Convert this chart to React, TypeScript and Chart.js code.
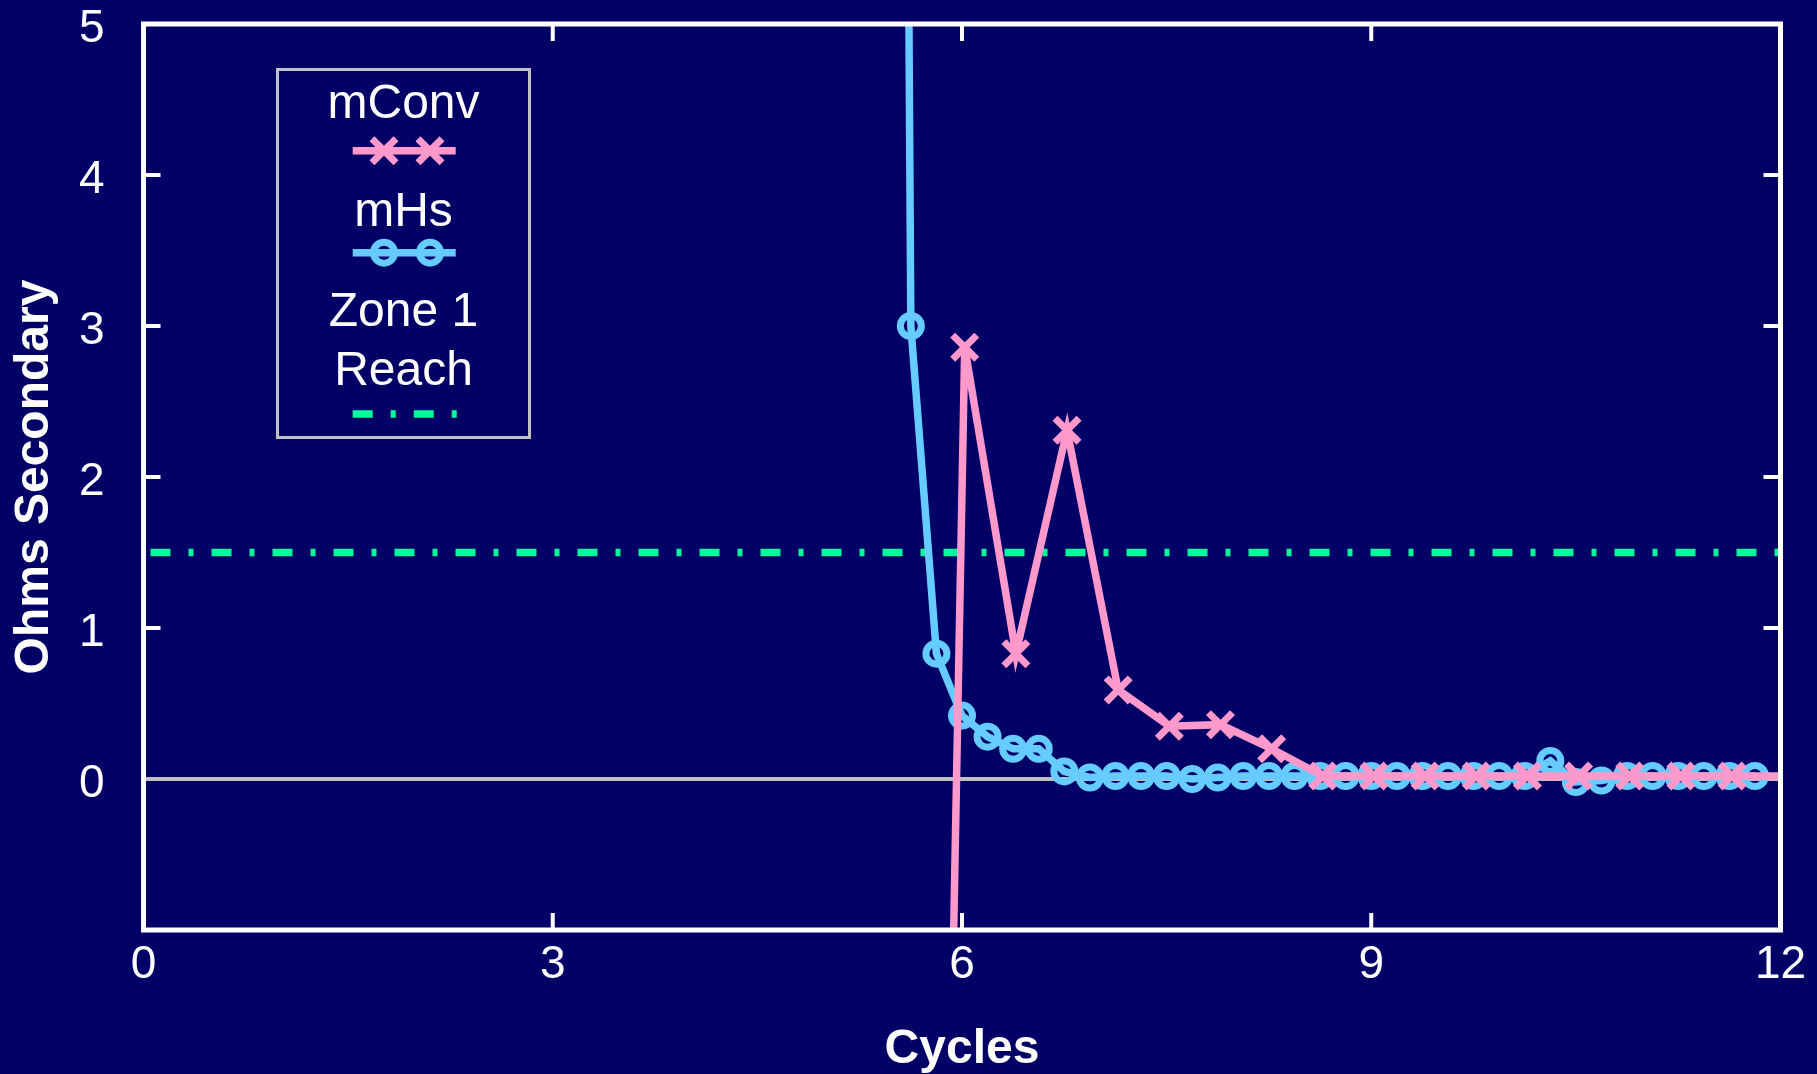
import React, { useEffect, useRef } from 'react';
import { Chart, registerables } from 'chart.js';

Chart.register(...registerables);

// ---------- data ----------
const mHsCycles = [
  5.4375, 5.625, 5.8125, 6.0, 6.1875, 6.375, 6.5625, 6.75, 6.9375, 7.125, 7.3125, 7.5,
  7.6875, 7.875, 8.0625, 8.25, 8.4375, 8.625, 8.8125, 9.0, 9.1875, 9.375, 9.5625, 9.75,
  9.9375, 10.125, 10.3125, 10.5, 10.6875, 10.875, 11.0625, 11.25, 11.4375, 11.625, 11.8125,
];
const mHsOhms = [
  30, 3.0, 0.83, 0.42, 0.28, 0.2, 0.2, 0.05, 0.01, 0.02, 0.02, 0.02,
  0.0, 0.01, 0.02, 0.02, 0.02, 0.02, 0.02, 0.02, 0.02, 0.02, 0.02, 0.02,
  0.02, 0.02, 0.12, -0.02, -0.01, 0.02, 0.02, 0.02, 0.02, 0.02, 0.02,
];
const mConvCycles = [
  5.645, 6.02, 6.395, 6.77, 7.145, 7.52, 7.895, 8.27, 8.645, 9.02, 9.395, 9.77,
  10.145, 10.52, 10.895, 11.27, 11.645, 12.02,
];
const mConvOhms = [
  -15, 2.86, 0.83, 2.31, 0.59, 0.35, 0.36, 0.2, 0.02, 0.02, 0.02, 0.02,
  0.02, 0.02, 0.02, 0.02, 0.02, 0.02,
];
const zoneCycles = [0, 12];
const zoneOhms = [1.5, 1.5];

const seriesLabels = ['mConv', 'mHs', 'Zone 1 Reach'];
const legendLines = [['mConv'], ['mHs'], ['Zone 1', 'Reach']];
const xTitle = 'Cycles';
const yTitle = 'Ohms Secondary';

// ---------- styles ----------
const BG = '#000066';
const PINK = '#ff99cc';
const BLUE = '#66ccff';
const GREEN = '#00ff99';
const GRAY = '#c0c0c0';
const FONT = '"Liberation Sans", Arial, Helvetica, sans-serif';

function toPoints(xs: number[], ys: number[]) {
  return xs.map((x, i) => ({ x, y: ys[i] }));
}

function drawCrossRot(ctx: CanvasRenderingContext2D, x: number, y: number, r: number) {
  const o = r * Math.SQRT1_2;
  ctx.beginPath();
  ctx.moveTo(x - o, y - o);
  ctx.lineTo(x + o, y + o);
  ctx.moveTo(x + o, y - o);
  ctx.lineTo(x - o, y + o);
  ctx.stroke();
}

const framePlugin = {
  id: 'frameAndLegend',
  beforeDraw(chart: any) {
    const { ctx, width, height } = chart;
    ctx.save();
    ctx.fillStyle = BG;
    ctx.fillRect(0, 0, width, height);
    ctx.restore();
  },
  afterDatasetsDraw(chart: any) {
    const { ctx, chartArea } = chart;
    const { left, right, top, bottom } = chartArea;
    const xs = chart.scales.x;
    const ys = chart.scales.y;
    ctx.save();
    ctx.strokeStyle = '#ffffff';
    ctx.lineWidth = 4;
    const tl = 17;
    ys.ticks.forEach((t: any) => {
      if (t.value <= ys.min || t.value >= ys.max || t.value === 0) return;
      const py = ys.getPixelForValue(t.value);
      ctx.beginPath();
      ctx.moveTo(left, py);
      ctx.lineTo(left + tl, py);
      ctx.moveTo(right, py);
      ctx.lineTo(right - tl, py);
      ctx.stroke();
    });
    xs.ticks.forEach((t: any) => {
      if (t.value <= xs.min || t.value >= xs.max) return;
      const px = xs.getPixelForValue(t.value);
      ctx.beginPath();
      ctx.moveTo(px, bottom);
      ctx.lineTo(px, bottom - tl);
      ctx.moveTo(px, top);
      ctx.lineTo(px, top + tl);
      ctx.stroke();
    });
    ctx.lineWidth = 5;
    ctx.strokeRect(left, top, right - left, bottom - top);

    // legend
    const bx = 277.5, by = 69.5, bw = 252, bh = 368;
    ctx.fillStyle = BG;
    ctx.fillRect(bx, by, bw, bh);
    ctx.strokeStyle = GRAY;
    ctx.lineWidth = 3;
    ctx.strokeRect(bx, by, bw, bh);
    const cx = bx + bw / 2;
    ctx.fillStyle = '#ffffff';
    ctx.font = `48px ${FONT}`;
    ctx.textAlign = 'center';
    ctx.textBaseline = 'middle';
    const textY = [[105], [213], [313, 372]];
    legendLines.forEach((lines, i) => {
      lines.forEach((s, j) => ctx.fillText(s, cx, textY[i][j]));
    });
    const sx0 = 352.7, sx1 = 455.7;
    const mk = [384, 430];
    // mConv sample
    ctx.strokeStyle = PINK;
    ctx.lineWidth = 7.5;
    ctx.beginPath();
    ctx.moveTo(sx0, 150.7);
    ctx.lineTo(sx1, 150.7);
    ctx.stroke();
    ctx.lineWidth = 7;
    mk.forEach((m) => drawCrossRot(ctx, m, 150.7, 17));
    // mHs sample
    ctx.strokeStyle = BLUE;
    ctx.lineWidth = 7.5;
    ctx.beginPath();
    ctx.moveTo(sx0, 252.7);
    ctx.lineTo(sx1, 252.7);
    ctx.stroke();
    ctx.lineWidth = 7;
    mk.forEach((m) => {
      ctx.beginPath();
      ctx.arc(m, 252.7, 10.5, 0, Math.PI * 2);
      ctx.stroke();
    });
    // zone sample
    ctx.strokeStyle = GREEN;
    ctx.lineWidth = 7.5;
    ctx.setLineDash([20, 18, 5, 18]);
    ctx.beginPath();
    ctx.moveTo(sx0, 414);
    ctx.lineTo(sx1 + 1, 414);
    ctx.stroke();
    ctx.restore();
  },
};

export default function App() {
  const ref = useRef<HTMLCanvasElement>(null);

  useEffect(() => {
    if (!ref.current) return;
    Chart.defaults.font.family = FONT;
    const lastConv = mConvCycles.length - 1;
    const chart = new Chart(ref.current, {
      type: 'scatter',
      data: {
        datasets: [
          {
            label: seriesLabels[0],
            data: toPoints(mConvCycles, mConvOhms),
            showLine: true,
            borderColor: PINK,
            borderWidth: 7.5,
            pointStyle: 'crossRot',
            pointRadius: (c: any) => (c.dataIndex === lastConv ? 0 : 17),
            pointBorderWidth: 7,
            pointBorderColor: PINK,
            pointBackgroundColor: PINK,
            pointHoverRadius: 17,
          },
          {
            label: seriesLabels[1],
            data: toPoints(mHsCycles, mHsOhms),
            showLine: true,
            borderColor: BLUE,
            borderWidth: 7.5,
            pointStyle: 'circle',
            pointRadius: 10.5,
            pointBorderWidth: 7,
            pointBorderColor: BLUE,
            pointBackgroundColor: 'rgba(0,0,0,0)',
            pointHoverRadius: 10.5,
          },
          {
            label: seriesLabels[2],
            data: toPoints(zoneCycles, zoneOhms),
            showLine: true,
            borderColor: GREEN,
            borderWidth: 7.5,
            borderDash: [20, 18, 5, 18],
            borderDashOffset: 54,
            borderCapStyle: 'butt',
            pointRadius: 0,
            pointHoverRadius: 0,
          },
        ],
      },
      options: {
        animation: false,
        responsive: false,
        devicePixelRatio: 1,
        layout: { padding: { top: 21, right: 36.5, bottom: 0, left: 0 } },
        plugins: {
          legend: { display: false },
          tooltip: { enabled: false },
        },
        scales: {
          x: {
            type: 'linear',
            min: 0,
            max: 12,
            ticks: {
              stepSize: 3,
              color: '#ffffff',
              font: { size: 46, lineHeight: 1 },
              padding: 12,
              maxRotation: 0,
            },
            grid: { display: false, drawTicks: false },
            border: { display: false },
            title: {
              display: true,
              text: xTitle,
              color: '#ffffff',
              font: { size: 48, weight: 'bold', lineHeight: 1 },
              padding: { top: 0, bottom: 0 },
            },
            afterFit(scale: any) {
              scale.height = 144;
              scale.paddingLeft = 0;
              scale.paddingRight = 0;
            },
          },
          y: {
            type: 'linear',
            min: -1,
            max: 5,
            ticks: {
              stepSize: 1,
              color: '#ffffff',
              font: { size: 46, lineHeight: 1 },
              padding: 39,
              labelOffset: 5,
              callback: (v: any) => (Number(v) < 0 ? '' : String(v)),
            },
            grid: {
              drawTicks: false,
              color: (c: any) => (c.tick && c.tick.value === 0 ? GRAY : 'rgba(0,0,0,0)'),
              lineWidth: 4,
            },
            border: { display: false },
            title: {
              display: true,
              text: yTitle,
              color: '#ffffff',
              font: { size: 48, weight: 'bold', lineHeight: 1 },
              padding: { top: 11, bottom: 0 },
            },
            afterFit(scale: any) {
              scale.width = 143.5;
              scale.paddingTop = 0;
              scale.paddingBottom = 0;
            },
          },
        },
      },
      plugins: [framePlugin],
    } as any);
    return () => chart.destroy();
  }, []);

  return (
    <div style={{ position: 'fixed', left: 0, top: 0, width: 1817, height: 1074, background: BG }}>
      <canvas ref={ref} width={1817} height={1074} style={{ display: 'block' }} />
    </div>
  );
}
